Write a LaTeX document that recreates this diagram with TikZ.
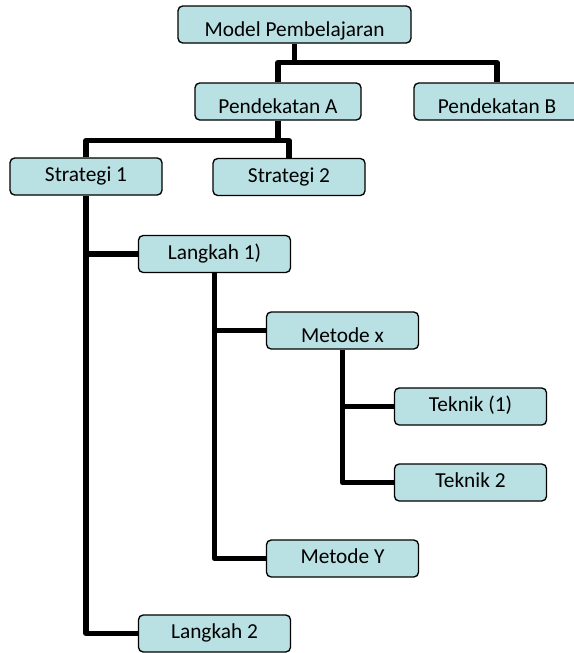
\documentclass[tikz,border=0pt]{standalone}
\usepackage{fontspec}
\setmainfont{Carlito}
\usetikzlibrary{positioning,backgrounds}
\definecolor{boxfill}{RGB}{185,224,226}

\begin{document}
\begin{tikzpicture}[x=0.75pt,y=-0.75pt,font=\fontsize{16pt}{19pt}\selectfont,
  box/.style={draw=black,line width=1pt,fill=boxfill,rounded corners=3.5pt,
    minimum width=114pt,minimum height=27.75pt,inner sep=0pt,
    text height=11pt,text depth=3pt},
  lowtext/.style={text height=21pt},
  conn/.style={line width=4pt,line join=round}]
\useasboundingbox (0,0) rectangle (574,653);
% nodes
\node[box,lowtext,minimum width=174.75pt] (model) at (294.5,24.5) {Model Pembelajaran};
\node[box,lowtext,minimum width=124.5pt] (pendA) at (278,101.5) {Pendekatan A};
\node[box,lowtext,minimum width=124.5pt] (pendB) at (497,101.5) {Pendekatan B};
\node[box] (str1) at (86,176.5) {Strategi 1};
\node[box] (str2) at (289,177) {Strategi 2};
\node[box] (lang1) at (214.5,254) {Langkah 1)};
\node[box,lowtext] (metx) at (342.5,330.5) {Metode x};
\node[box] (tek1) at (470.5,406.5) {Teknik (1)};
\node[box] (tek2) at (470.5,482.5) {Teknik 2};
\node[box] (metY) at (342.5,558.5) {Metode Y};
\node[box] (lang2) at (214.5,633.5) {Langkah 2};
% joints
\path (model.south) ++(0,19) coordinate (jm);
\path (pendA.south) ++(0,20) coordinate (ja);
% connectors
\begin{scope}[on background layer]
\draw[conn] (model.south) -- (jm);
\draw[conn] (pendA.north) |- (jm) -| (pendB.north);
\draw[conn] (pendA.south) -- (ja);
\draw[conn] (str1.north) |- (ja) -| (str2.north);
\draw[conn] (str1.south) |- (lang2.west);
\draw[conn] (lang1.west) -- (lang1.west -| str1.south);
\draw[conn] (lang1.south) |- (metY.west);
\draw[conn] (metx.west) -- (metx.west -| lang1.south);
\draw[conn] (metx.south) |- (tek2.west);
\draw[conn] (tek1.west) -- (tek1.west -| metx.south);
\end{scope}
\end{tikzpicture}
\end{document}
